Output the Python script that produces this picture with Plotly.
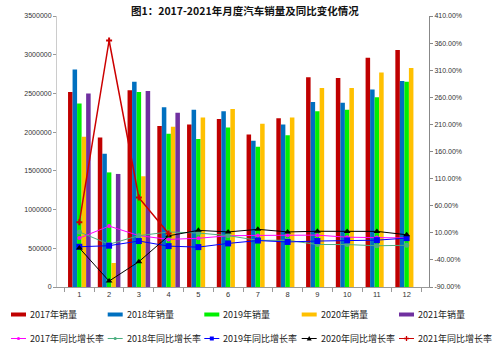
import plotly.graph_objects as go

months = ["1", "2", "3", "4", "5", "6", "7", "8", "9", "10", "11", "12"]

sales_2017 = [2520000, 1930000, 2540000, 2080000, 2100000, 2170000, 1970000, 2180000, 2710000, 2700000, 2960000, 3060000]
sales_2018 = [2810000, 1720000, 2650000, 2320000, 2290000, 2270000, 1890000, 2100000, 2390000, 2380000, 2550000, 2660000]
sales_2019 = [2370000, 1480000, 2520000, 1980000, 1910000, 2060000, 1810000, 1960000, 2270000, 2290000, 2450000, 2650000]
sales_2020 = [1940000, 310000, 1430000, 2070000, 2190000, 2300000, 2110000, 2190000, 2570000, 2570000, 2770000, 2830000]
sales_2021 = [2500000, 1460000, 2530000, 2250000, None, None, None, None, None, None, None, None]

growth_2017 = [0.2, 22.4, 4.8, -2.2, -0.1, 4.5, 5.2, 5.3, 5.7, 1.9, 1.1, 0.4]
growth_2018 = [11.6, -11.1, 4.7, 11.5, 9.6, 4.8, -4.0, -3.8, -11.6, -11.7, -13.9, -13.0]
growth_2019 = [-15.8, -13.8, -5.2, -14.6, -16.4, -9.6, -4.3, -6.9, -5.2, -4.0, -3.6, 0.2]
growth_2020 = [-18.0, -79.1, -43.3, 4.4, 14.5, 11.6, 16.4, 11.6, 12.8, 12.5, 12.6, 6.4]
growth_2021 = [29.5, 364.8, 74.9, 8.6]

left_ticks = [0, 500000, 1000000, 1500000, 2000000, 2500000, 3000000, 3500000]
right_ticks = [-90, -40, 10, 60, 110, 160, 210, 260, 310, 360, 410]

bar_series = [
    ("2017年销量", sales_2017, "#C00000"),
    ("2018年销量", sales_2018, "#0070C0"),
    ("2019年销量", sales_2019, "#00F000"),
    ("2020年销量", sales_2020, "#FFC000"),
    ("2021年销量", sales_2021, "#7030A0"),
]
line_series = [
    ("2017年同比增长率", growth_2017, "#FF00FF", "circle", 4, 1),
    ("2018年同比增长率", growth_2018, "#4CAF80", "circle", 5, 1),
    ("2019年同比增长率", growth_2019, "#0000FF", "square", 6, 1),
    ("2020年同比增长率", growth_2020, "#000000", "triangle-up", 6, 1),
    ("2021年同比增长率", growth_2021, "#CC0000", "cross", 5, 1.5),
]

W, H = 499, 350
L, R, T, B = 57, 70, 16, 63
PW, PH = W - L - R, H - T - B

def px(x):
    return (x - L) / PW

def py(y):
    return (H - B - y) / PH

fig = go.Figure()
for name, vals, color in bar_series:
    fig.add_trace(go.Bar(x=months, y=vals, name=name, marker_color=color,
                         marker_line_width=0, showlegend=False))
for name, vals, color, sym, size, lw in line_series:
    fig.add_trace(go.Scatter(x=months[:len(vals)], y=vals, name=name, yaxis="y2",
                             mode="lines+markers",
                             line=dict(color=color, width=lw),
                             marker=dict(color=color, symbol=sym, size=size, line=dict(width=0)),
                             showlegend=False))

shapes = []
annotations = []
starts = [11, 107.7, 204.3, 301.7, 399]
fnt = dict(family="Noto Sans CJK SC, Liberation Sans", size=9, color="#222222")
for i, (name, vals, color) in enumerate(bar_series):
    x0 = starts[i]
    shapes.append(dict(type="rect", xref="paper", yref="paper",
                       x0=px(x0), x1=px(x0 + 15), y0=py(316.5), y1=py(312.5),
                       fillcolor=color, line_width=0))
    annotations.append(dict(xref="paper", yref="paper", x=px(x0 + 17), y=py(314.5),
                            text=name, showarrow=False, xanchor="left", yanchor="middle",
                            font=fnt))
for i, (name, vals, color, sym, size, lw) in enumerate(line_series):
    x0 = starts[i]
    yc = 338.5
    shapes.append(dict(type="line", xref="paper", yref="paper",
                       x0=px(x0), x1=px(x0 + 15), y0=py(yc), y1=py(yc),
                       line=dict(color=color, width=1)))
    xa, ya = px(x0 + 7.5), py(yc)
    if sym == "circle":
        r = 1.6
        shapes.append(dict(type="circle", xref="paper", yref="paper", xsizemode="pixel",
                           ysizemode="pixel", xanchor=xa, yanchor=ya,
                           x0=-r, x1=r, y0=-r, y1=r, fillcolor=color, line_width=0))
    elif sym == "square":
        r = 2
        shapes.append(dict(type="rect", xref="paper", yref="paper", xsizemode="pixel",
                           ysizemode="pixel", xanchor=xa, yanchor=ya,
                           x0=-r, x1=r, y0=-r, y1=r, fillcolor=color, line_width=0))
    elif sym == "triangle-up":
        shapes.append(dict(type="path", xref="paper", yref="paper", xsizemode="pixel",
                           ysizemode="pixel", xanchor=xa, yanchor=ya,
                           path="M -2.5 -2 L 2.5 -2 L 0 2.5 Z", fillcolor=color, line_width=0))
    else:
        shapes.append(dict(type="path", xref="paper", yref="paper", xsizemode="pixel",
                           ysizemode="pixel", xanchor=xa, yanchor=ya,
                           path="M -2.5 0 L 2.5 0 M 0 -2.5 L 0 2.5", line=dict(color=color, width=1.3)))
    annotations.append(dict(xref="paper", yref="paper", x=px(x0 + 17), y=py(yc),
                            text=name, showarrow=False, xanchor="left", yanchor="middle",
                            font=fnt))

annotations.append(dict(xref="paper", yref="paper", x=px(245), y=py(10),
                        text="<b>图1：2017-2021年月度汽车销量及同比变化情况</b>",
                        showarrow=False, xanchor="center", yanchor="middle",
                        font=dict(family="Noto Sans CJK SC", size=10.5, color="#111111")))

tickfont = dict(family="Liberation Sans, Arial", size=7, color="#333333")
fig.update_layout(
    width=W, height=H,
    margin=dict(l=L, r=R, t=T, b=B),
    paper_bgcolor="white", plot_bgcolor="white",
    barmode="group", bargap=0.24, bargroupgap=0,
    showlegend=False,
    shapes=shapes, annotations=annotations,
    xaxis=dict(type="category", tickson="boundaries", ticks="outside", ticklen=4,
               tickcolor="#999999", showline=True, linecolor="#999999", linewidth=1,
               showgrid=False, tickfont=dict(family="Liberation Sans, Arial", size=7.5, color="#333333"),
               fixedrange=True),
    yaxis=dict(range=[0, 3500000], tickvals=left_ticks, ticktext=[str(v) for v in left_ticks],
               showgrid=False, zeroline=False, showline=True, linecolor="#cccccc", linewidth=1,
               ticks="outside", ticklen=3, tickcolor="#999999", tickfont=tickfont),
    yaxis2=dict(range=[-90, 410], overlaying="y", side="right", tickvals=right_ticks,
                ticktext=[f"{v:.2f}%" for v in right_ticks], showgrid=False, zeroline=False,
                showline=True, linecolor="#888888", linewidth=1, ticks="outside", ticklen=3,
                tickcolor="#888888", tickfont=tickfont),
)

fig.write_html("out.html")
